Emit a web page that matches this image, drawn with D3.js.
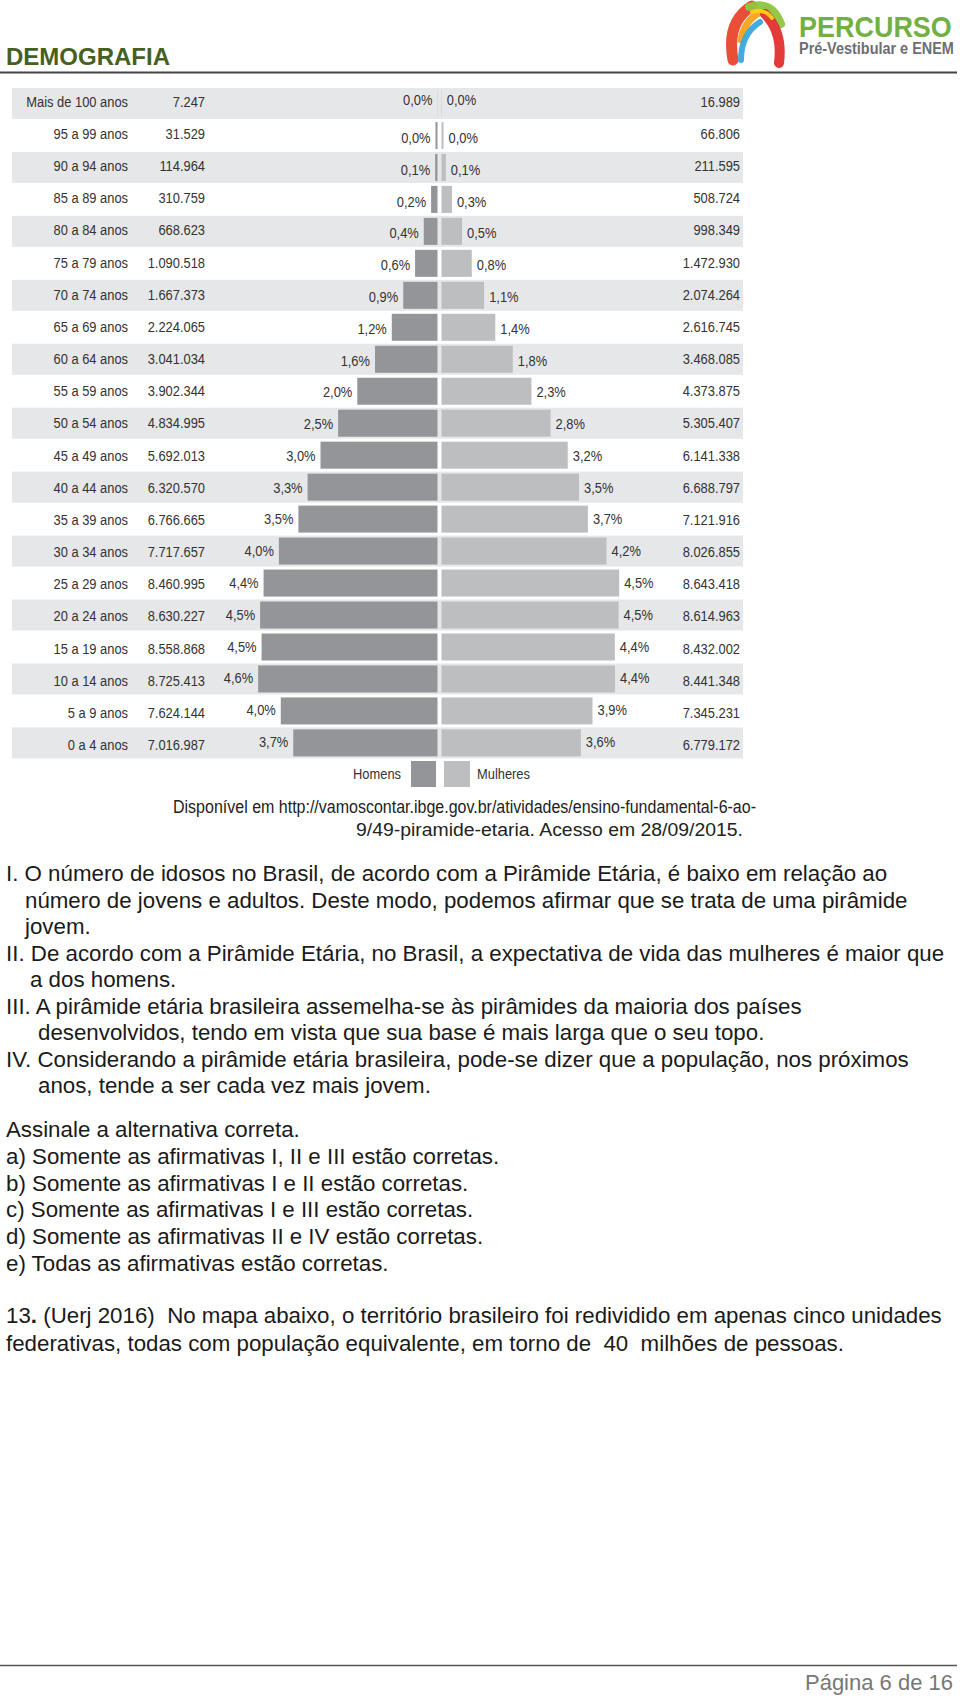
<!DOCTYPE html>
<html>
<head>
<meta charset="utf-8">
<script src="https://cdn.jsdelivr.net/npm/d3@7"></script>
<style>
  html, body { margin: 0; padding: 0; background: #ffffff; }
  svg { display: block; }
  text { white-space: pre; }
</style>
</head>
<body>
<script>
// ---------------- DATA ----------------
const ages = ["Mais de 100 anos","95 a 99 anos","90 a 94 anos","85 a 89 anos","80 a 84 anos","75 a 79 anos","70 a 74 anos","65 a 69 anos","60 a 64 anos","55 a 59 anos","50 a 54 anos","45 a 49 anos","40 a 44 anos","35 a 39 anos","30 a 34 anos","25 a 29 anos","20 a 24 anos","15 a 19 anos","10 a 14 anos","5 a 9 anos","0 a 4 anos"];
const menPop = [7247,31529,114964,310759,668623,1090518,1667373,2224065,3041034,3902344,4834995,5692013,6320570,6766665,7717657,8460995,8630227,8558868,8725413,7624144,7016987];
const womenPop = [16989,66806,211595,508724,998349,1472930,2074264,2616745,3468085,4373875,5305407,6141338,6688797,7121916,8026855,8643418,8614963,8432002,8441348,7345231,6779172];
const menPct = [0.0,0.0,0.1,0.2,0.4,0.6,0.9,1.2,1.6,2.0,2.5,3.0,3.3,3.5,4.0,4.4,4.5,4.5,4.6,4.0,3.7];
const womenPct = [0.0,0.0,0.1,0.3,0.5,0.8,1.1,1.4,1.8,2.3,2.8,3.2,3.5,3.7,4.2,4.5,4.5,4.4,4.4,3.9,3.6];
const legendLabels = ["Homens","Mulheres"];
const sourceLines = ["Disponível em http://vamoscontar.ibge.gov.br/atividades/ensino-fundamental-6-ao-","9/49-piramide-etaria. Acesso em 28/09/2015."];

const questionLines = [
  {t:"I. O número de idosos no Brasil, de acordo com a Pirâmide Etária, é baixo em relação ao", x:6, y:881},
  {t:"número de jovens e adultos. Deste modo, podemos afirmar que se trata de uma pirâmide", x:25, y:907.5},
  {t:"jovem.", x:25, y:934},
  {t:"II. De acordo com a Pirâmide Etária, no Brasil, a expectativa de vida das mulheres é maior que", x:6, y:960.5},
  {t:"a dos homens.", x:30, y:987},
  {t:"III. A pirâmide etária brasileira assemelha-se às pirâmides da maioria dos países", x:6, y:1013.5},
  {t:"desenvolvidos, tendo em vista que sua base é mais larga que o seu topo.", x:38, y:1040},
  {t:"IV. Considerando a pirâmide etária brasileira, pode-se dizer que a população, nos próximos", x:6, y:1066.5},
  {t:"anos, tende a ser cada vez mais jovem.", x:38, y:1093},
  {t:"Assinale a alternativa correta.", x:6, y:1137},
  {t:"a) Somente as afirmativas I, II e III estão corretas.", x:6, y:1164},
  {t:"b) Somente as afirmativas I e II estão corretas.", x:6, y:1190.5},
  {t:"c) Somente as afirmativas I e III estão corretas.", x:6, y:1217},
  {t:"d) Somente as afirmativas II e IV estão corretas.", x:6, y:1244},
  {t:"e) Todas as afirmativas estão corretas.", x:6, y:1271}
];

// ---------------- SETUP ----------------
const W = 960, H = 1698;
const svg = d3.select("body").append("svg").attr("width", W).attr("height", H);
const loc = d3.formatLocale({decimal: ",", thousands: ".", grouping: [3], currency: ["R$", ""]});
const fmtPop = loc.format(",d");
const fmtPct = v => loc.format(".1f")(v) + "%";

const chartFont = "'Liberation Sans', Arial, Helvetica, sans-serif";
const textCol = "#333333";
const SX = 0.86; // condensed look of chart labels

function ctext(g, x, y, str, anchor, size, fill) {
  return g.append("text")
    .attr("transform", `translate(${x},${y}) scale(${SX},1)`)
    .attr("text-anchor", anchor)
    .attr("font-family", chartFont)
    .attr("font-size", size || 15)
    .attr("fill", fill || textCol)
    .text(str);
}

// ---------------- HEADER ----------------
svg.append("text").attr("x", 6).attr("y", 65)
  .attr("font-family", chartFont).attr("font-weight", "bold").attr("font-size", 24)
  .attr("fill", "#46601f").text("DEMOGRAFIA");
svg.append("line").attr("x1", 0).attr("x2", 957).attr("y1", 72.5).attr("y2", 72.5)
  .attr("stroke", "#444").attr("stroke-width", 2);

// logo emblem
const logo = svg.append("g");
const ribbons = [
  {d:"M733,60 Q726,22 752,6", c:"#e8452c", w:11},
  {d:"M741,40 Q745,16 768,9", c:"#f7a21b", w:7},
  {d:"M749,7 Q772,0 781,24", c:"#8dc63f", w:8},
  {d:"M741,60 Q741,34 760,22", c:"#3aa6dd", w:6},
  {d:"M765,14 Q783,32 779,63", c:"#e2302f", w:10},
  {d:"M752,12 Q764,8 772,18", c:"#fcd116", w:4}
];
logo.selectAll("path").data(ribbons).join("path")
  .attr("d", d => d.d).attr("fill", "none").attr("stroke", d => d.c)
  .attr("stroke-width", d => d.w).attr("stroke-linecap", "round").attr("opacity", 0.95);
svg.append("text").attr("transform", "translate(799,36.5) scale(0.93,1)")
  .attr("font-family", chartFont).attr("font-weight", "bold").attr("font-size", 29)
  .attr("fill", "#72b043").text("PERCURSO");
svg.append("text").attr("transform", "translate(799,53.5) scale(0.85,1)")
  .attr("font-family", chartFont).attr("font-weight", "bold").attr("font-size", 17)
  .attr("fill", "#6d6e71").text("Pré-Vestibular e ENEM");

// ---------------- CHART ----------------
const rowTop = 88, rowStep = 31.97;
const y = d3.scaleBand().domain(ages).range([rowTop, rowTop + rowStep * ages.length]).padding(0);
// label baselines (text in the source image drifts slightly relative to the bands)
const labelY = d3.scalePoint().domain(ages).range([106.7, 750]);
const pctY = d3.scalePoint().domain(ages.slice(1)).range([143, 747]);
const x = d3.scaleLinear().domain([0, 9000000]).range([0, 185]);
const menRight = 437.5, womenLeft = 441.5;
const barW = v => (v > 20000 ? Math.max(x(v), 2) : x(v));

const chart = svg.append("g");
// alternating bands
chart.selectAll("rect.band").data(ages.filter((a, i) => i % 2 === 0)).join("rect")
  .attr("class", "band").attr("x", 12).attr("width", 731)
  .attr("y", d => y(d)).attr("height", 31).attr("fill", "#e6e7e8");

// bars
chart.selectAll("rect.men").data(ages).join("rect")
  .attr("class", "men")
  .attr("x", (d, i) => menRight - barW(menPop[i])).attr("width", (d, i) => barW(menPop[i]))
  .attr("y", d => y(d) + 2).attr("height", 27).attr("fill", "#939598");
chart.selectAll("rect.women").data(ages).join("rect")
  .attr("class", "women")
  .attr("x", womenLeft).attr("width", (d, i) => barW(womenPop[i]))
  .attr("y", d => y(d) + 2).attr("height", 27).attr("fill", "#bcbec0");

// labels
ages.forEach((a, i) => {
  const base = labelY(a);
  const pbase = i === 0 ? 105 : pctY(a);
  ctext(chart, 128, base, a, "end");
  ctext(chart, 205, base, fmtPop(menPop[i]), "end");
  ctext(chart, 740, base, fmtPop(womenPop[i]), "end");
  ctext(chart, menRight - barW(menPop[i]) - 5, pbase, fmtPct(menPct[i]), "end");
  ctext(chart, womenLeft + barW(womenPop[i]) + 5, pbase, fmtPct(womenPct[i]), "start");
});

// legend
const lg = svg.append("g");
lg.append("rect").attr("x", 411).attr("y", 761).attr("width", 25).attr("height", 26).attr("fill", "#939598");
lg.append("rect").attr("x", 444).attr("y", 761).attr("width", 26).attr("height", 26).attr("fill", "#bcbec0");
ctext(lg, 401, 779, legendLabels[0], "end");
ctext(lg, 477, 779, legendLabels[1], "start");

// source (two lines, right-aligned)
svg.append("text").attr("x", 173).attr("y", 813)
  .attr("font-family", chartFont).attr("font-size", 17.5).attr("fill", "#222")
  .attr("textLength", 583).attr("lengthAdjust", "spacingAndGlyphs").text(sourceLines[0]);
svg.append("text").attr("x", 356).attr("y", 836)
  .attr("font-family", chartFont).attr("font-size", 17.5).attr("fill", "#222")
  .attr("textLength", 387).attr("lengthAdjust", "spacingAndGlyphs").text(sourceLines[1]);

// ---------------- QUESTIONS ----------------
const q = svg.append("g").attr("font-family", chartFont).attr("font-size", 22.3).attr("fill", "#1a1a1a");
q.selectAll("text").data(questionLines).join("text")
  .attr("x", d => d.x).attr("y", d => d.y).text(d => d.t);

const t13 = q.append("text").attr("x", 6).attr("y", 1323);
t13.append("tspan").text("13");
t13.append("tspan").attr("font-weight", "bold").text(".");
t13.append("tspan").text(" (Uerj 2016)  No mapa abaixo, o território brasileiro foi redividido em apenas cinco unidades");
q.append("text").attr("x", 6).attr("y", 1351)
  .text("federativas, todas com população equivalente, em torno de  40  milhões de pessoas.");

// ---------------- FOOTER ----------------
svg.append("line").attr("x1", 0).attr("x2", 957).attr("y1", 1665.5).attr("y2", 1665.5)
  .attr("stroke", "#555").attr("stroke-width", 1.5);
svg.append("text").attr("x", 953).attr("y", 1690).attr("text-anchor", "end")
  .attr("font-family", chartFont).attr("font-size", 22).attr("fill", "#777")
  .text("Página 6 de 16");
</script>
</body>
</html>
